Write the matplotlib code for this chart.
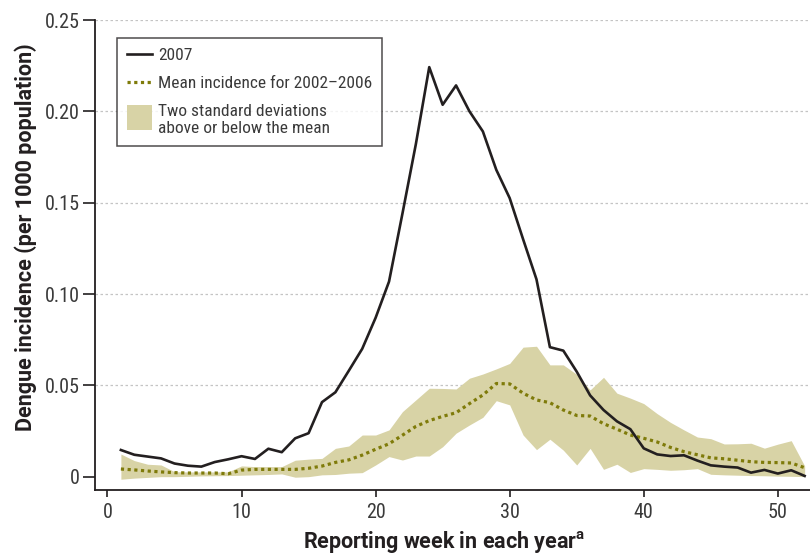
import numpy as np
import matplotlib.pyplot as plt
from matplotlib import font_manager as fm
from matplotlib.lines import Line2D
from matplotlib.patches import Patch, Rectangle
from matplotlib.legend_handler import HandlerPatch


def pick_font(candidates):
    for name in candidates:
        try:
            fm.findfont(fm.FontProperties(family=name), fallback_to_default=False)
            return name
        except ValueError:
            pass
    return 'DejaVu Sans'


# narrow face for ticks and legend, wider bold face for the axis titles
FONT = pick_font(['Liberation Sans Narrow', 'Roboto Condensed', 'DejaVu Sans Condensed',
                  'Liberation Sans', 'Roboto'])
TITLE_FONT = pick_font(['Roboto', 'Liberation Sans', 'DejaVu Sans'])
plt.rcParams['font.family'] = [FONT, 'DejaVu Sans']
plt.rcParams['font.stretch'] = 'condensed'
plt.rcParams['mathtext.fontset'] = 'custom'
plt.rcParams['mathtext.rm'] = TITLE_FONT
plt.rcParams['mathtext.bf'] = TITLE_FONT + ':bold'

weeks = np.arange(1, 53)

incidence_2007 = [0.0146, 0.012, 0.011, 0.010, 0.0072, 0.006, 0.0055, 0.008, 0.0095, 0.0112,
                  0.0097, 0.0153, 0.0134, 0.021, 0.0238, 0.0408, 0.0462, 0.058, 0.070, 0.087,
                  0.1068, 0.144, 0.182, 0.2242, 0.2036, 0.2142, 0.200, 0.189, 0.168, 0.1525,
                  0.130, 0.108, 0.0709, 0.069, 0.0575, 0.0445, 0.0365, 0.0303, 0.026, 0.0155,
                  0.0122, 0.0113, 0.0117, 0.0088, 0.0062, 0.0055, 0.005, 0.0022, 0.0037, 0.0017,
                  0.0035, 0.0004]

mean_0206 = [0.0042, 0.0037, 0.0031, 0.0026, 0.0022, 0.002, 0.002, 0.002, 0.0016, 0.0036,
             0.004, 0.004, 0.004, 0.004, 0.0046, 0.0058, 0.0078, 0.0092, 0.0118, 0.015,
             0.018, 0.0227, 0.0275, 0.0307, 0.033, 0.035, 0.040, 0.0447, 0.051, 0.0508,
             0.0457, 0.042, 0.0405, 0.0365, 0.0335, 0.0332, 0.029, 0.026, 0.0228, 0.021,
             0.019, 0.016, 0.0137, 0.012, 0.0103, 0.0098, 0.009, 0.0082, 0.0078, 0.0077,
             0.0075, 0.0049]

band_upper = [0.0124, 0.0088, 0.0068, 0.0064, 0.0027, 0.0026, 0.0026, 0.0026, 0.0026, 0.0059,
              0.0055, 0.0055, 0.0055, 0.009, 0.0096, 0.010, 0.0155, 0.0168, 0.0228, 0.0228,
              0.0256, 0.0356, 0.042, 0.0484, 0.0483, 0.048, 0.0539, 0.0562, 0.059, 0.062,
              0.0709, 0.0714, 0.0612, 0.0612, 0.056, 0.0475, 0.0544, 0.0457, 0.043, 0.040,
              0.0345, 0.0297, 0.0256, 0.0217, 0.0208, 0.0179, 0.018, 0.0183, 0.0156, 0.0178,
              0.0197, 0.0059]

band_lower = [-0.0014, -0.0008, -0.0004, 0.0, 0.0, 0.0002, 0.0004, 0.0005, 0.0006, 0.0008,
              0.001, 0.0012, 0.0015, -0.0003, 0.0, 0.001, 0.0012, 0.0019, 0.0022, 0.0064,
              0.011, 0.0091, 0.0113, 0.0113, 0.0164, 0.0238, 0.0283, 0.0325, 0.0416, 0.0393,
              0.0228, 0.0148, 0.0205, 0.0145, 0.0064, 0.0155, 0.004, 0.0068, 0.0023, 0.0044,
              0.004, 0.0035, 0.0038, 0.0044, 0.0013, 0.001, 0.0008, 0.0006, 0.0005, 0.0003,
              0.0002, 0.0]

yticks = [0, 0.05, 0.10, 0.15, 0.20, 0.25]
ytick_labels = ['0', '0.05', '0.10', '0.15', '0.20', '0.25']
xticks = [0, 10, 20, 30, 40, 50]

ink = '#231f20'
grey_text = '#3a3a3a'
band_color = '#d8d3a6'
olive = '#7f7b0a'

fig = plt.figure(figsize=(8.1, 5.56), dpi=100)
ax = fig.add_axes([0.1173, 0.1187, 0.8827, 0.8453])

for y in yticks[1:]:
    ax.axhline(y, color='#c4c4c4', lw=0.9, ls=(0, (2, 2)), zorder=0)

ax.fill_between(weeks, band_lower, band_upper, color=band_color, lw=0, zorder=1)
ax.plot(weeks, mean_0206, color=olive, lw=2.3, ls=(0, (1, 1.1)), zorder=2)
ax.plot(weeks, incidence_2007, color=ink, lw=1.9, zorder=3)

ax.set_xlim(-0.93, 52.4)
ax.set_ylim(-0.0073, 0.25)
ax.set_xticks(xticks)
ax.set_yticks(yticks)
ax.set_yticklabels(ytick_labels)

for side in ['top', 'right']:
    ax.spines[side].set_visible(False)
for side in ['left', 'bottom']:
    ax.spines[side].set_color(ink)
    ax.spines[side].set_linewidth(1.3)

ax.tick_params(axis='y', length=9, width=1.2, color=ink, labelsize=14.5,
               labelcolor=grey_text, pad=2)
ax.tick_params(axis='x', length=5, width=1.2, color=ink, labelsize=14.5,
               labelcolor=grey_text, pad=4)

title_kw = dict(fontsize=15.5, fontweight='bold', color=ink,
                family=[TITLE_FONT, 'DejaVu Sans'], fontstretch='normal')
ax.set_xlabel('Reporting week in each year$^{\\mathbf{a}}$', **title_kw)
ax.set_ylabel('Dengue incidence (per 1000 population)', **title_kw)
ax.xaxis.set_label_coords(0.489, -0.083)
ax.yaxis.set_label_coords(-0.081, 0.538)


def tall_patch(legend, orig_handle, xdescent, ydescent, width, height, fontsize):
    return Rectangle((-xdescent, -ydescent - 0.35 * height), width, height * 2.1)


handles = [
    Line2D([], [], color=ink, lw=1.9),
    Line2D([], [], color=olive, lw=2.3, ls=(0, (1, 1.1))),
    Patch(facecolor=band_color, edgecolor='none'),
]
labels = ['2007', 'Mean incidence for 2002\u20132006',
          'Two standard deviations\nabove or below the mean']
leg = ax.legend(handles, labels, loc='upper left', bbox_to_anchor=(117 / 810, 1 - 38 / 556),
                bbox_transform=fig.transFigure, borderaxespad=0, fontsize=12.5,
                frameon=True, fancybox=False, handlelength=1.45, handletextpad=0.35,
                labelspacing=0.75, borderpad=0.55, labelcolor=grey_text,
                handler_map={Patch: HandlerPatch(patch_func=tall_patch)})
leg.get_frame().set_edgecolor(ink)
leg.get_frame().set_linewidth(1.1)

fig.savefig('out.png', dpi=100)
